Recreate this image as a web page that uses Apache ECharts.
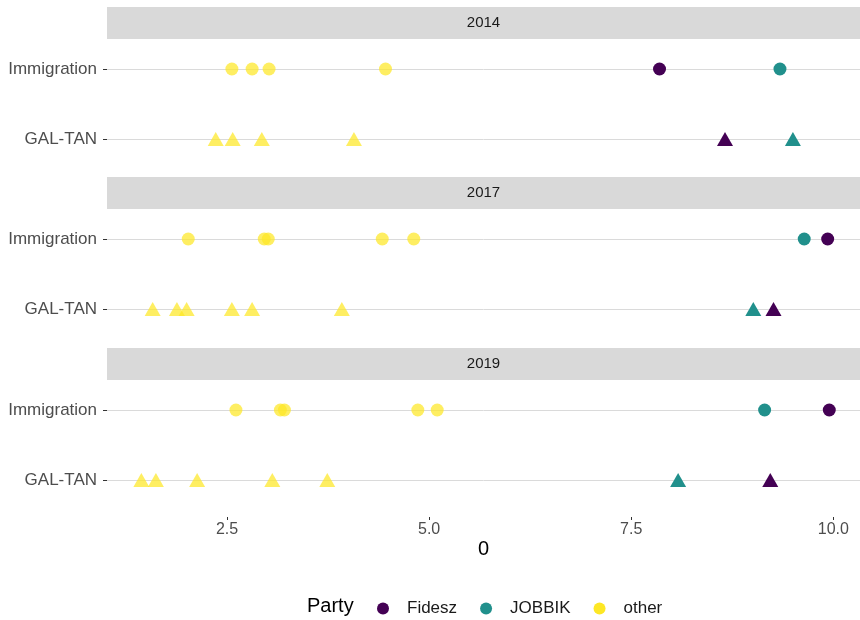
<!DOCTYPE html>
<html>
<head>
<meta charset="utf-8">
<script src="https://cdn.jsdelivr.net/npm/echarts@6/dist/echarts.min.js"></script>
<style>html,body{margin:0;padding:0;background:#fff}#c{width:860px;height:620px}</style>
</head>
<body>
<div id="c"></div>
<script>
// ---- data ----
const years = ['2014', '2017', '2019'];
const issues = ['GAL-TAN', 'Immigration'];
const parties = ['Fidesz', 'JOBBIK', 'other'];
const xTicks = [2.5, 5.0, 7.5, 10.0];

const fideszImmigration = [7.85, 9.93, 9.95];
const fideszGalTan = [8.66, 9.26, 9.22];
const jobbikImmigration = [9.34, 9.64, 9.15];
const jobbikGalTan = [9.50, 9.01, 8.08];

const otherImmigration2014 = [2.56, 2.81, 3.02, 4.46];
const otherGalTan2014 = [2.36, 2.57, 2.93, 4.07];
const otherImmigration2017 = [2.02, 2.96, 3.01, 4.42, 4.81];
const otherGalTan2017 = [1.58, 1.88, 2.00, 2.56, 2.81, 3.92];
const otherImmigration2019 = [2.61, 3.16, 3.21, 4.86, 5.10];
const otherGalTan2019 = [1.44, 1.62, 2.13, 3.06, 3.74];

const otherImmigration = [otherImmigration2014, otherImmigration2017, otherImmigration2019];
const otherGalTan = [otherGalTan2014, otherGalTan2017, otherGalTan2019];

// ---- styling ----
const colors = { Fidesz: '#440154', JOBBIK: '#21908C', other: '#FDE725' };
const FONT = 'Liberation Sans, Arial, sans-serif';
const gridTops = [69, 239, 410];
const gridH = 70;
const gridLeft = 107;
const xMin = 1.015, xMax = 10.33;

const chart = echarts.init(document.getElementById('c'), null, { renderer: 'canvas' });

const grids = [], xAxes = [], yAxes = [], series = [], graphics = [];

function pts(imm, gal) {
  const out = [];
  imm.forEach(v => out.push([v, 'Immigration']));
  gal.forEach(v => out.push([v, 'GAL-TAN']));
  return out;
}
const symFn = v => v[1] === 'Immigration' ? 'circle' : 'triangle';
const sizeFn = v => v[1] === 'Immigration' ? 13 : [16, 14];

years.forEach((yr, i) => {
  const last = i === years.length - 1;
  grids.push({ left: gridLeft, right: 0, top: gridTops[i], height: gridH, containLabel: false });
  xAxes.push({
    type: 'value', gridIndex: i, min: xMin, max: xMax,
    offset: last ? 37 : 0,
    axisLine: { show: false },
    splitLine: { show: false },
    axisTick: { show: last, customValues: xTicks, length: 3, lineStyle: { color: '#333333' } },
    axisLabel: {
      show: last, customValues: xTicks, margin: 5,
      formatter: v => v.toFixed(1),
      fontFamily: FONT, fontSize: 16, color: '#4D4D4D'
    },
    name: last ? '0' : '',
    nameLocation: 'middle', nameGap: 22,
    nameTextStyle: { fontFamily: FONT, fontSize: 20, color: '#000000' }
  });
  yAxes.push({
    type: 'category', gridIndex: i, data: issues, boundaryGap: false,
    axisLine: { show: false },
    axisTick: { show: true, length: 4, lineStyle: { color: '#333333' } },
    axisLabel: { margin: 10, fontFamily: FONT, fontSize: 17, color: '#4D4D4D' },
    splitLine: { show: true, lineStyle: { color: '#DADADA', width: 1 } }
  });
  // facet strip
  graphics.push({
    type: 'rect', left: gridLeft, top: gridTops[i] - 62, silent: true,
    shape: { width: 860 - gridLeft, height: 32 },
    style: { fill: '#D9D9D9' }
  });
  graphics.push({
    type: 'text', x: gridLeft + (860 - gridLeft) / 2, y: gridTops[i] - 46, silent: true,
    style: { text: yr, fontFamily: FONT, fontSize: 15, fill: '#1A1A1A', align: 'center', verticalAlign: 'middle' }
  });
  const dataBy = {
    Fidesz: pts([fideszImmigration[i]], [fideszGalTan[i]]),
    JOBBIK: pts([jobbikImmigration[i]], [jobbikGalTan[i]]),
    other: pts(otherImmigration[i], otherGalTan[i])
  };
  parties.forEach(p => {
    series.push({
      type: 'scatter', name: p, xAxisIndex: i, yAxisIndex: i,
      data: dataBy[p], symbol: symFn, symbolSize: sizeFn, clip: false,
      itemStyle: { color: colors[p], opacity: p === 'other' ? 0.72 : 1 },
      emphasis: { disabled: true }
    });
  });
});

graphics.push({
  type: 'text', x: 307, y: 606, silent: true,
  style: { text: 'Party', fontFamily: FONT, fontSize: 20, fill: '#000000', align: 'left', verticalAlign: 'middle' }
});

chart.setOption({
  animation: false,
  backgroundColor: '#ffffff',
  grid: grids,
  xAxis: xAxes,
  yAxis: yAxes,
  series: series,
  graphic: graphics,
  legend: {
    data: parties.map(p => ({ name: p, icon: 'circle', itemStyle: { opacity: 1 } })),
    left: 372, top: 595,
    itemWidth: 12, itemHeight: 12, itemGap: 23,
    textStyle: { fontFamily: FONT, fontSize: 17, color: '#1A1A1A', padding: [0, 0, 0, 13] },
    selectedMode: false
  }
});
</script>
</body>
</html>
